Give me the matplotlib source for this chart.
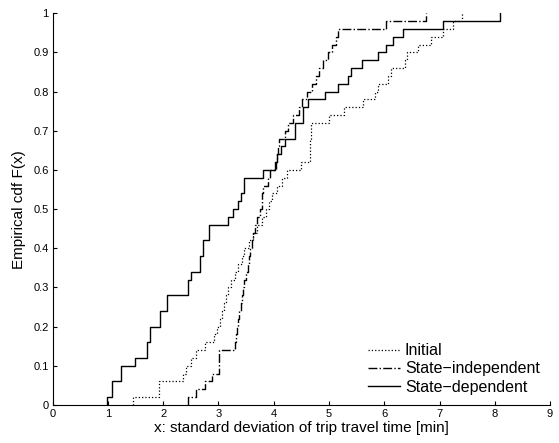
import numpy as np
import matplotlib
matplotlib.use("Agg")
import matplotlib.pyplot as plt

# sample values (50 trips each)
initial = [1.45, 1.93, 1.93, 2.35, 2.42, 2.50, 2.60, 2.76, 2.92, 2.98,
           3.03, 3.07, 3.10, 3.13, 3.18, 3.22, 3.30, 3.36, 3.42, 3.47,
           3.55, 3.62, 3.70, 3.78, 3.86, 3.92, 3.97, 4.05, 4.15, 4.24,
           4.49, 4.65, 4.66, 4.66, 4.67, 4.68, 5.00, 5.27, 5.62, 5.84,
           5.88, 6.07, 6.12, 6.37, 6.42, 6.61, 6.85, 7.06, 7.24, 7.40]

state_indep = [2.45, 2.60, 2.76, 2.88, 3.01, 3.01, 3.01, 3.29, 3.31, 3.33,
               3.35, 3.37, 3.40, 3.43, 3.45, 3.47, 3.50, 3.53, 3.55, 3.57,
               3.60, 3.63, 3.66, 3.70, 3.76, 3.78, 3.79, 3.81, 3.90, 3.93,
               4.04, 4.06, 4.08, 4.10, 4.20, 4.25, 4.35, 4.45, 4.52, 4.60,
               4.70, 4.76, 4.82, 4.90, 4.98, 5.05, 5.12, 5.17, 6.03, 6.75]

state_dep = [0.98, 1.07, 1.07, 1.23, 1.23, 1.49, 1.71, 1.71, 1.76, 1.76,
             1.95, 1.95, 2.06, 2.06, 2.45, 2.45, 2.51, 2.66, 2.66, 2.72,
             2.72, 2.82, 2.82, 3.17, 3.27, 3.36, 3.40, 3.46, 3.46, 3.80,
             4.02, 4.06, 4.14, 4.20, 4.38, 4.38, 4.53, 4.53, 4.62, 4.92,
             5.16, 5.35, 5.40, 5.59, 5.88, 6.03, 6.16, 6.34, 7.06, 8.10]

labels = ['Initial', 'State\u2212independent', 'State\u2212dependent']
styles = [':', '-.', '-']
widths = [0.9, 1.0, 1.0]


def EcdfSteps(values):
    xs = np.sort(np.array(values))
    ys = np.arange(1, len(xs) + 1) / len(xs)
    return np.concatenate(([xs[0]], xs)), np.concatenate(([0.0], ys))


plt.rcParams['font.family'] = ['Liberation Sans', 'DejaVu Sans']

fig = plt.figure(figsize=(5.59, 4.43), dpi=100)
ax = fig.add_axes([0.0943, 0.0858, 0.8897, 0.8842])

for data, lab, ls, lw in zip([initial, state_indep, state_dep], labels, styles, widths):
    x, y = EcdfSteps(data)
    ax.step(x, y, where='post', color='black', linestyle=ls, linewidth=lw, label=lab)

ax.set_xlim(0, 9)
ax.set_ylim(0, 1)
ax.set_xticks(range(0, 10))
yt = np.round(np.arange(0, 1.01, 0.1), 1)
ax.set_yticks(yt)
ax.set_yticklabels(['0' if v == 0 else ('1' if v == 1 else str(v)) for v in yt])
ax.tick_params(direction='in', length=3, width=0.8, labelsize=8, pad=3)
ax.spines['top'].set_visible(False)
ax.spines['right'].set_visible(False)
ax.set_xlabel('x: standard deviation of trip travel time [min]', fontsize=11, labelpad=1)
ax.set_ylabel('Empirical cdf F(x)', fontsize=11, labelpad=5)
ax.legend(loc='lower right', frameon=False, fontsize=11.5, handlelength=2.0,
          handletextpad=0.3, labelspacing=0.2, borderaxespad=0.25)

fig.savefig('out.png', dpi=100)
